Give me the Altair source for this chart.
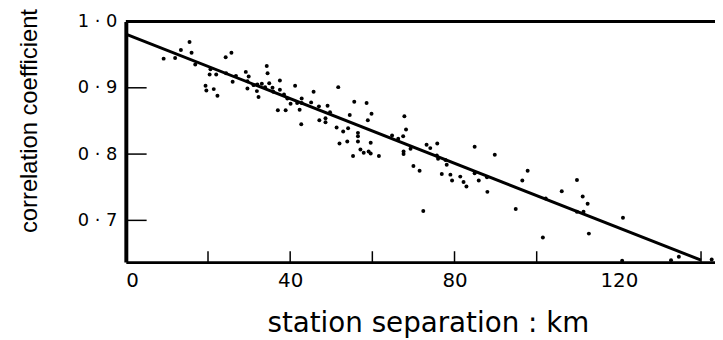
import altair as alt
import pandas as pd

# scatter points: station separation (km), correlation coefficient
sep_km = [9.2, 12.0, 13.4, 15.5, 16.0, 16.9, 20.6, 20.4, 22.0, 19.4, 19.6, 21.4, 22.3,
          24.3, 25.7, 24.4, 26.0, 26.8, 29.2, 29.9, 29.6, 29.6, 31.1, 32.0, 33.1, 33.9,
          31.9, 32.3, 34.3, 34.5, 34.9, 35.7, 35.9, 37.5, 37.5, 38.5, 39.3, 40.1, 41.2,
          37.0, 38.9, 41.7, 42.8, 42.8, 42.3, 42.7, 45.7, 45.1, 47.0, 49.1, 49.7, 47.1,
          48.6, 48.6, 51.7, 51.3, 52.9, 54.1, 54.5, 55.6, 58.6, 59.8, 58.9, 56.5, 56.5,
          56.5, 53.9, 52.0, 57.1, 57.9, 59.1, 59.6, 59.6, 55.3, 61.6, 64.8, 66.3, 67.5,
          67.8, 68.2, 67.6, 67.6, 69.3, 70.0, 73.2, 74.1, 75.8, 71.5, 72.4, 75.7, 76.0,
          77.8, 78.1, 76.9, 79.0, 79.4, 81.4, 82.2, 82.9, 84.9, 84.9, 85.9, 87.9, 88.0,
          89.8, 94.9, 96.5, 97.8, 102.2, 101.5, 106.1, 109.8, 111.2, 112.4, 109.8, 111.4,
          112.7, 121.0, 120.8, 132.7, 134.6, 142.6]
corr = [0.944, 0.945, 0.957, 0.969, 0.953, 0.935, 0.928, 0.920, 0.920, 0.903, 0.896, 0.898, 0.888,
        0.946, 0.953, 0.922, 0.909, 0.918, 0.924, 0.917, 0.910, 0.899, 0.904, 0.905, 0.906, 0.901,
        0.895, 0.886, 0.933, 0.922, 0.907, 0.900, 0.894, 0.911, 0.897, 0.890, 0.884, 0.876, 0.903,
        0.866, 0.866, 0.877, 0.884, 0.877, 0.867, 0.845, 0.894, 0.878, 0.872, 0.873, 0.863, 0.851,
        0.854, 0.848, 0.901, 0.840, 0.834, 0.839, 0.859, 0.879, 0.877, 0.861, 0.851, 0.832, 0.827,
        0.819, 0.819, 0.816, 0.807, 0.802, 0.804, 0.801, 0.817, 0.797, 0.797, 0.828, 0.823, 0.827,
        0.857, 0.837, 0.804, 0.800, 0.808, 0.782, 0.814, 0.809, 0.816, 0.775, 0.714, 0.798, 0.793,
        0.791, 0.784, 0.770, 0.769, 0.760, 0.766, 0.758, 0.751, 0.811, 0.771, 0.760, 0.765, 0.743,
        0.799, 0.717, 0.760, 0.775, 0.733, 0.674, 0.744, 0.761, 0.736, 0.725, 0.713, 0.713,
        0.680, 0.704, 0.639, 0.640, 0.645, 0.641]

# fitted line end points
line_km = [0, 140]
line_corr = [0.981, 0.640]

x_label_values = [0, 40, 80, 120]
x_minor_ticks = [20, 40, 60, 80, 100, 140]
y_label_values = [0.7, 0.8, 0.9, 1.0]
y_inner_ticks = [0.7, 0.8, 0.9]

W, H = 595, 243
X_DOMAIN = [0, 143.4]
Y_DOMAIN = [0.637, 1.0]

pts = pd.DataFrame({"x": sep_km, "y": corr})
ln = pd.DataFrame({"x": line_km, "y": line_corr})
xt = pd.DataFrame({"x": x_minor_ticks})
yt = pd.DataFrame({"y": y_inner_ticks})

LABEL_FONT = "DejaVu Sans"

xscale = alt.Scale(domain=X_DOMAIN, nice=False, zero=False)
yscale = alt.Scale(domain=Y_DOMAIN, nice=False, zero=False)

x_axis = alt.Axis(
    values=x_label_values, ticks=False, grid=False,
    domainColor="black", domainWidth=3,
    labelFont=LABEL_FONT, labelFontSize=20, labelColor="black", labelPadding=9,
    title="station separation : km", titleFont=LABEL_FONT, titleFontSize=28,
    titleFontWeight="normal", titleColor="black",
    titleX=305, titleY=62, titleBaseline="middle", titleAlign="center",
)
y_axis = alt.Axis(
    values=y_label_values, ticks=False, grid=False, format=".1f",
    labelExpr="replace(datum.label, '.', ' · ')",
    domainColor="black", domainWidth=4,
    labelFont=LABEL_FONT, labelFontSize=18, labelColor="black", labelPadding=9,
    title="correlation coefficient", titleFont="Liberation Sans Narrow, Liberation Sans, sans-serif",
    titleFontSize=24, titleFontWeight="normal", titleColor="black",
    titleAngle=-90, titleX=-97, titleY=100, titleAlign="center", titleBaseline="middle",
)

X = lambda: alt.X("x:Q", scale=xscale, axis=x_axis)
Y = lambda: alt.Y("y:Q", scale=yscale, axis=y_axis)

points = alt.Chart(pts).mark_circle(size=16, color="black", opacity=1).encode(x=X(), y=Y())

fit = alt.Chart(ln).mark_line(color="black", strokeWidth=3).encode(x=X(), y=Y())

xticks = alt.Chart(xt).mark_rule(color="black", strokeWidth=1.5).encode(
    x=X(), y=alt.value(H), y2=alt.value(H - 11),
)

yticks = alt.Chart(yt).mark_rule(color="black", strokeWidth=1.5).encode(
    y=Y(), x=alt.value(0), x2=alt.value(21),
)

top_border = alt.Chart(pd.DataFrame({"k": [0]})).mark_rule(color="black", strokeWidth=3).encode(
    x=alt.value(0), x2=alt.value(W), y=alt.value(0)
)

chart = alt.layer(points, fit, xticks, yticks, top_border).properties(
    width=W, height=H,
    autosize=alt.AutoSizeParams(type="none"),
    padding={"left": 119, "top": 12, "right": 0, "bottom": 77},
    background="white",
).configure_view(stroke=None)

chart.save("out.html", embed_options={"renderer": "svg", "actions": False})
